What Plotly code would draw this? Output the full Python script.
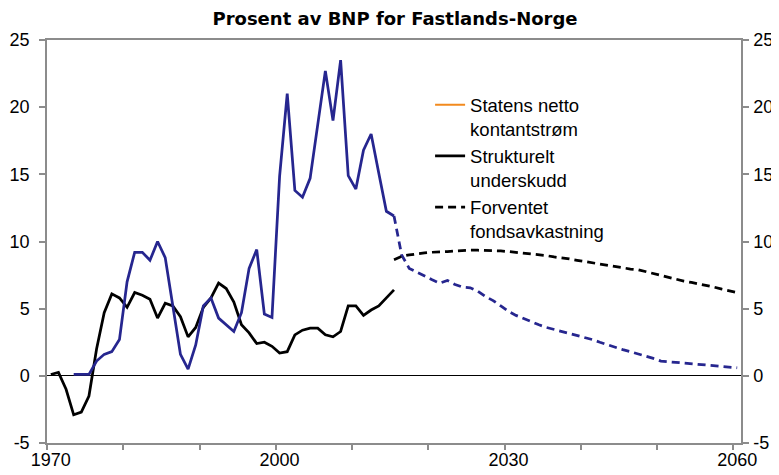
import plotly.graph_objects as go

# Statens netto kontantstrøm (historical)
cash_years = list(range(1973, 2016))
cash_vals = [0.1, 0.1, 0.1, 1.1, 1.6, 1.8, 2.7, 7.0, 9.2, 9.2, 8.6, 10.0, 8.8, 5.2, 1.6,
             0.5, 2.3, 5.2, 5.8, 4.3, 3.8, 3.3, 4.7, 8.0, 9.4, 4.6, 4.35, 14.85, 21.0, 13.8,
             13.3, 14.7, 18.7, 22.7, 19.0, 23.5, 14.9, 13.9, 16.8, 18.0, 15.1, 12.25, 11.9]

# Statens netto kontantstrøm (projection)
cash_proj_years = list(range(2015, 2061))
cash_proj_vals = [11.9, 9.0, 8.0, 7.7, 7.4, 7.15, 6.9, 7.1, 6.8, 6.6, 6.55, 6.3, 5.9, 5.6,
                  5.2, 4.8, 4.5, 4.25, 4.0, 3.8, 3.6, 3.45, 3.35, 3.2, 3.05, 2.9, 2.7, 2.5,
                  2.3, 2.1, 1.95, 1.8, 1.65, 1.5, 1.3, 1.1, 1.05, 1.0, 1.0, 0.95, 0.9, 0.8,
                  0.75, 0.75, 0.7, 0.6]

# Strukturelt underskudd
def_years = list(range(1970, 2016))
def_vals = [0.1, 0.25, -1.0, -2.9, -2.7, -1.5, 2.0, 4.7, 6.1, 5.8, 5.1, 6.2, 6.0, 5.7, 4.3,
            5.4, 5.2, 4.4, 2.9, 3.6, 5.1, 5.8, 6.9, 6.5, 5.5, 3.8, 3.2, 2.4, 2.5, 2.2, 1.7,
            1.8, 3.05, 3.4, 3.55, 3.55, 3.05, 2.9, 3.3, 5.2, 5.2, 4.5, 4.9, 5.2, 5.8, 6.4]

# Forventet fondsavkastning
ret_years = list(range(2015, 2061))
ret_vals = [8.65, 8.9, 9.0, 9.1, 9.15, 9.2, 9.2, 9.25, 9.3, 9.35, 9.35, 9.35, 9.35, 9.3, 9.3,
            9.25, 9.2, 9.15, 9.05, 9.0, 8.95, 8.85, 8.8, 8.7, 8.6, 8.5, 8.4, 8.3, 8.25, 8.15,
            8.05, 7.95, 7.9, 7.75, 7.6, 7.45, 7.35, 7.2, 7.05, 6.95, 6.85, 6.7, 6.6, 6.45,
            6.35, 6.2]

x_labels = [1970, 2000, 2030, 2060]
y_ticks = [-5, 0, 5, 10, 15, 20, 25]
y_ticktext = ["-5", "0", "5", "10", "15", "20", "25"]

BLUE = "#26268f"
ORANGE = "#f28a1e"
font_family = "Liberation Sans, Arial, sans-serif"

# The page body has an 8px default margin; the figure is sized to fill the window exactly.
W, H = 771, 467

fig = go.Figure()
fig.add_trace(go.Scatter(x=[None], y=[None], mode="lines", name="Statens netto<br>kontantstrøm",
                         line=dict(color=ORANGE, width=2)))
fig.add_trace(go.Scatter(x=def_years, y=def_vals, mode="lines", name="Strukturelt<br>underskudd",
                         line=dict(color="black", width=2.75)))
fig.add_trace(go.Scatter(x=ret_years, y=ret_vals, mode="lines", name="Forventet<br>fondsavkastning",
                         line=dict(color="black", width=2.75, dash="8px,5px"), yaxis="y2"))
fig.add_trace(go.Scatter(x=cash_years, y=cash_vals, mode="lines", showlegend=False,
                         line=dict(color=BLUE, width=2.75)))
fig.add_trace(go.Scatter(x=cash_proj_years, y=cash_proj_vals, mode="lines", showlegend=False,
                         line=dict(color=BLUE, width=2.75, dash="8px,5px")))

axis_gray = "#8c8c8c"
fig.update_layout(
    width=W, height=H,
    margin=dict(l=39, r=38, t=32, b=31.5, autoexpand=False),
    paper_bgcolor="white", plot_bgcolor="white",
    font=dict(family=font_family, size=18, color="black"),
    title=dict(text="<b>Prosent av BNP for Fastlands-Norge</b>", x=387 / W, xanchor="center",
               y=1 - 11 / H, yanchor="middle", yref="container",
               font=dict(family="DejaVu Sans, Verdana, sans-serif", size=18, color="black")),
    showlegend=True,
    legend=dict(x=0.552, y=0.885, xanchor="left", yanchor="top", valign="top",
                bgcolor="rgba(0,0,0,0)", font=dict(size=18.5), tracegroupgap=0,
                traceorder="normal"),
    xaxis=dict(range=[1969.5, 2060.5], tickmode="array", tickvals=x_labels,
               ticktext=[str(v) for v in x_labels], ticks="", showgrid=False, zeroline=False,
               showline=True, linecolor=axis_gray, linewidth=1.5, mirror=True, automargin=False,
               minor=dict(tickmode="array", tickvals=[1969.5 + 10 * k for k in range(10)],
                          ticks="outside", ticklen=5, tickcolor=axis_gray, tickwidth=1.5,
                          showgrid=False),
               tickfont=dict(size=18)),
    yaxis=dict(range=[-5, 25], tickmode="array", tickvals=y_ticks, ticktext=y_ticktext,
               ticks="outside", ticklen=6,
               tickcolor=axis_gray, tickwidth=1.5, showgrid=False, zeroline=True,
               zerolinecolor="black", zerolinewidth=1, showline=True, linecolor=axis_gray,
               linewidth=1.5, ticklabelstandoff=6, tickfont=dict(size=18), automargin=False),
    yaxis2=dict(range=[-5, 25], overlaying="y", side="right", tickmode="array", tickvals=y_ticks,
                ticktext=y_ticktext,
                ticks="outside", ticklen=6, tickcolor=axis_gray, tickwidth=1.5, showgrid=False,
                zeroline=False, showline=True, linecolor=axis_gray, linewidth=1.5,
                ticklabelstandoff=1, tickfont=dict(size=18), automargin=False),
)

fig.write_html("out.html")
